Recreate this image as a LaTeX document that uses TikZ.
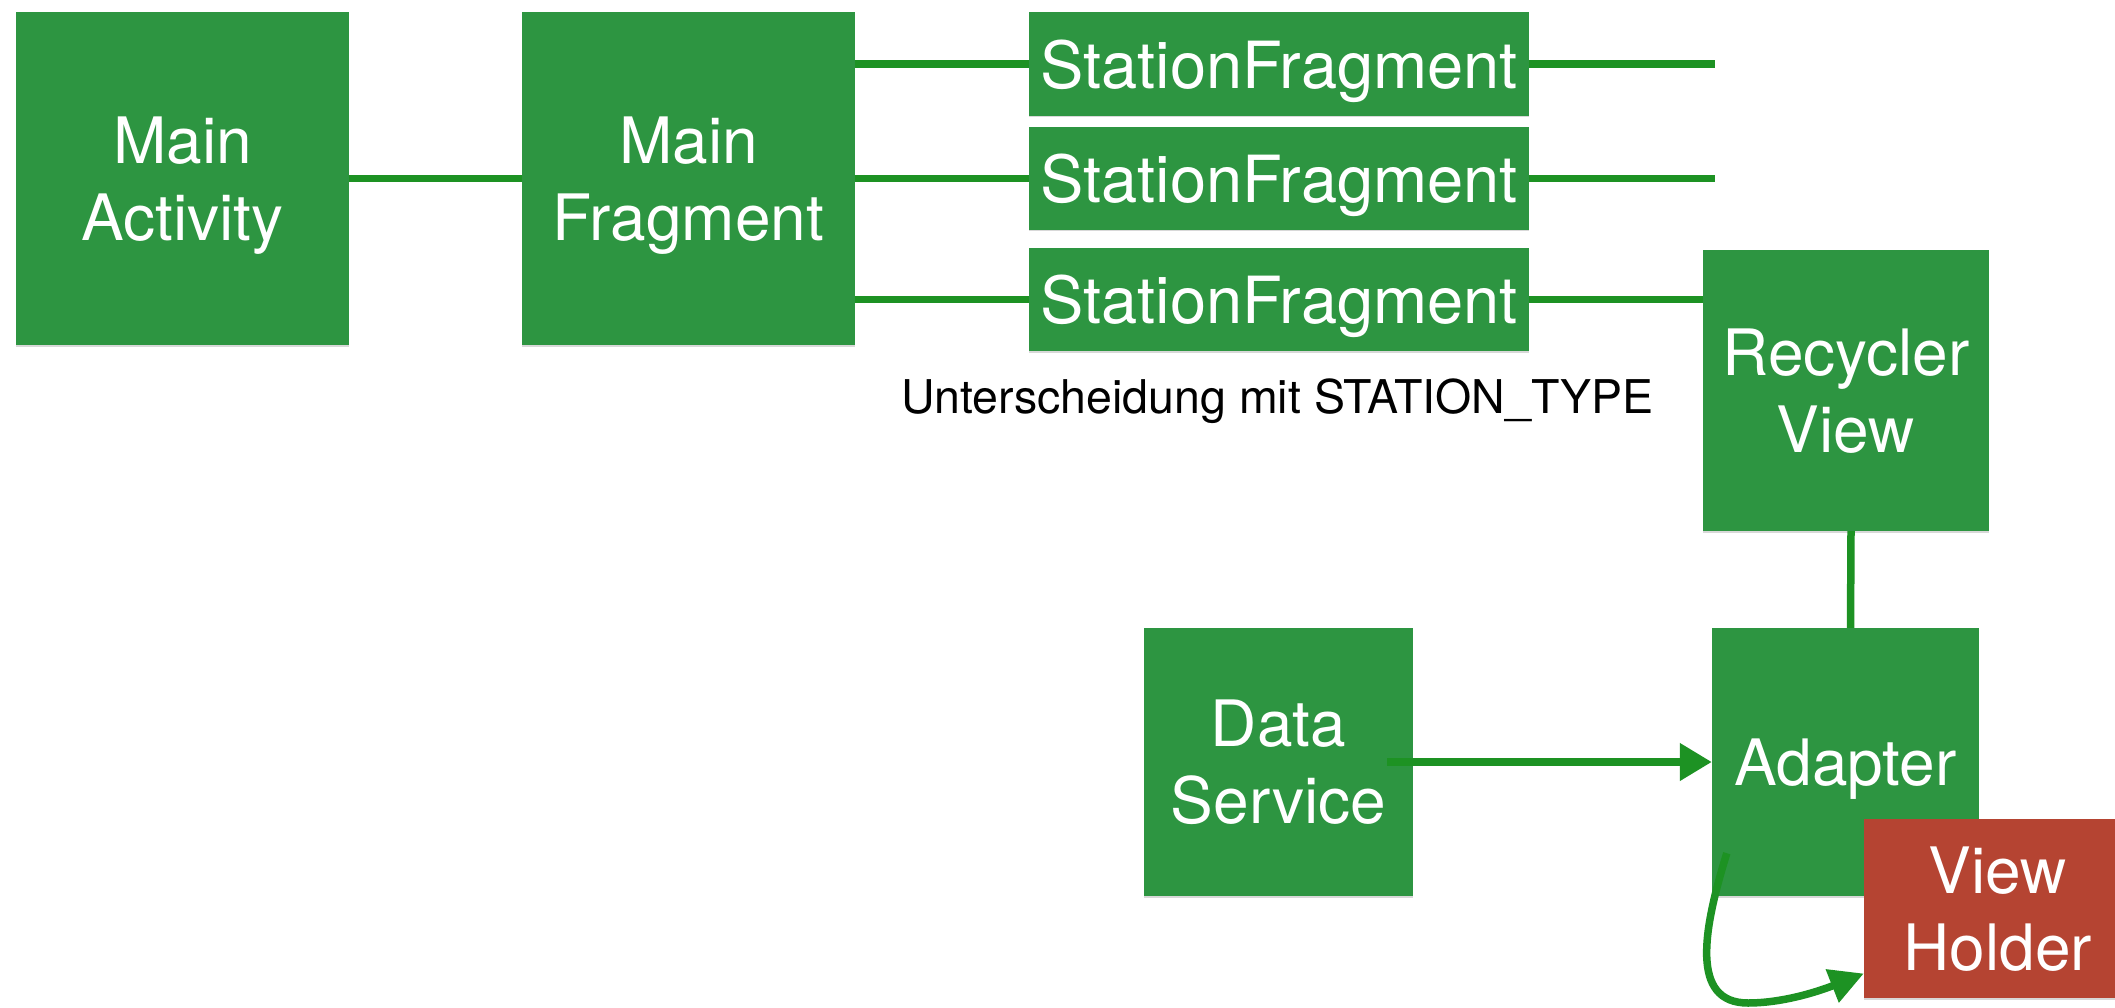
\documentclass[tikz,border=0pt]{standalone}
\usepackage{fontspec}
\setmainfont{TeX Gyre Heros}
\usetikzlibrary{arrows.meta,shadows}
\definecolor{boxgreen}{RGB}{45,149,65}
\definecolor{linegreen}{RGB}{29,146,35}
\definecolor{boxred}{RGB}{181,68,50}
\begin{document}
\begin{tikzpicture}[x=1pt,y=-1pt,
  box/.style={fill=boxgreen, draw=none, inner sep=0pt, text=white, align=center,
    font=\fontsize{64}{77}\selectfont, text depth=0pt,
    drop shadow={shadow xshift=0pt, shadow yshift=-1.5pt, opacity=0.3}},
  redbox/.style={box, fill=boxred},
  conn/.style={draw=linegreen, line width=7.5pt},
  arr/.style={conn, -{Triangle[length=32pt,width=36pt]}},
  curvarr/.style={conn, -{Triangle[length=34pt,width=34pt]}},
  note/.style={font=\fontsize{46.5}{56}\selectfont, text=black, inner sep=0pt, anchor=base}
]
\useasboundingbox (0,0) rectangle (2115,1008);
\fill[white] (0,0) rectangle (2115,1008);

% boxes
\node[box, minimum width=333pt, minimum height=333pt] (ma) at (182.5,178.5) {Main\\Activity};
\node[box, minimum width=333pt, minimum height=333pt] (mf) at (688.5,178.5) {Main\\Fragment};
\node[box, minimum width=500pt, minimum height=104pt, font=\fontsize{65}{78}\selectfont] (sf1) at (1279,64) {StationFragment};
\node[box, minimum width=500pt, minimum height=103pt, font=\fontsize{65}{78}\selectfont] (sf2) at (1279,178.5) {StationFragment};
\node[box, minimum width=500pt, minimum height=103pt, font=\fontsize{65}{78}\selectfont] (sf3) at (1279,299.5) {StationFragment};
\node[box, minimum width=286pt, minimum height=281pt] (rv) at (1846,390.5) {Recycler\\View};
\node[box, minimum width=269pt, minimum height=268pt] (ds) at (1278.5,762) {Data\\Service};
\node[box, minimum width=267pt, minimum height=268pt] (ad) at (1845.5,762) {Adapter};

\node[note] (lbl) at (1277.5,413) {Unterscheidung mit STATION\_TYPE};

% free ends
\coordinate (e1) at (1715,64);
\coordinate (e2) at (1715,178.5);

% connectors
\draw[conn] (ma.east) -- (mf.west);
\draw[conn] (mf.east |- sf1.west) -- (sf1.west);
\draw[conn] (mf.east |- sf2.west) -- (sf2.west);
\draw[conn] (mf.east |- sf3.west) -- (sf3.west);
\draw[conn] (sf1.east) -- (e1);
\draw[conn] (sf2.east) -- (e2);
\draw[conn] (sf3.east) -- (sf3.east -| rv.west);
\draw[conn] ([xshift=5pt]rv.south) -- ([xshift=5pt]ad.north);
\draw[arr] ([xshift=-26pt]ds.east) -- (ad.west);

\node[redbox, minimum width=268pt, minimum height=179pt] (vh) at (1998,908.5) {View\\Holder};

\draw[curvarr] ([shift={(15,-43)}]ad.south west)
  .. controls (1703,930) and (1690,1003) .. (1748,1003)
  .. controls (1785,1003) and (1822,990) .. ([shift={(0,65)}]vh.west);
\end{tikzpicture}
\end{document}
